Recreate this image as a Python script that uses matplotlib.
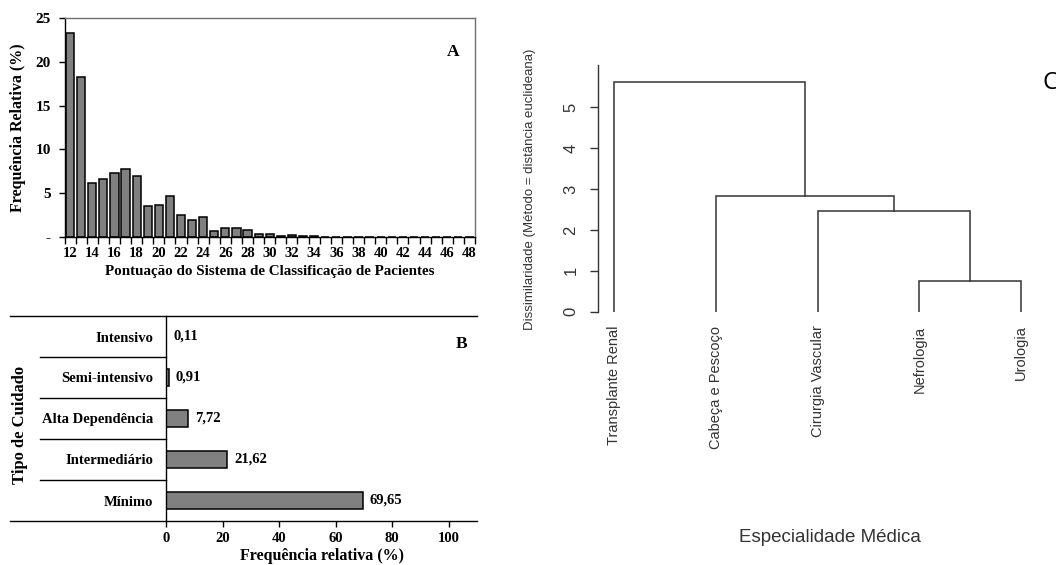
import numpy as np
import matplotlib
matplotlib.use("Agg")
import matplotlib.pyplot as plt

# dados - painel A
pontuacao = list(range(12, 49))
freq_a = [23.3, 18.3, 6.2, 6.6, 7.3, 7.8, 7.0, 3.5, 3.6, 4.7, 2.5, 1.9, 2.3,
          0.65, 1.0, 1.0, 0.75, 0.3, 0.3, 0.1, 0.2, 0.15, 0.1, 0.05, 0.05,
          0.05, 0.05, 0, 0, 0, 0, 0, 0, 0, 0, 0, 0]

# dados - painel B
cuidado = ["Mínimo", "Intermediário", "Alta Dependência", "Semi-intensivo", "Intensivo"]
freq_b = [69.65, 21.62, 7.72, 0.91, 0.11]
rotulos_b = ["69,65", "21,62", "7,72", "0,91", "0,11"]

# dados - painel C (dendrograma)
especialidades = ["Transplante Renal", "Cabeça e Pescoço", "Cirurgia Vascular",
                  "Nefrologia", "Urologia"]
# fusoes: (no esquerdo, no direito, altura); nos 0-4 = folhas, 5+ = grupos
fusoes = [(3, 4, 0.76), (2, 5, 2.46), (1, 6, 2.84), (0, 7, 5.62)]

W, H = 1056, 565
fig = plt.figure(figsize=(W / 100, H / 100), dpi=100)

def px_axes(x0, y0, x1, y1):
    return fig.add_axes([x0 / W, 1 - y1 / H, (x1 - x0) / W, (y1 - y0) / H])

serif = "Liberation Serif"
sans = "Liberation Sans"

# ---------------- Painel A
axA = px_axes(64.5, 18, 475, 237)
pos = np.arange(len(pontuacao))
axA.bar(pos, freq_a, width=0.74, color="#808080", edgecolor="black", linewidth=1.1)
axA.set_xlim(-0.5, len(pontuacao) - 0.5)
axA.set_ylim(0, 25)
axA.set_yticks([0, 5, 10, 15, 20, 25])
axA.set_yticklabels(["-", "5", "10", "15", "20", "25"])
axA.set_xticks(np.arange(-0.5, len(pontuacao)), minor=False)
axA.set_xticklabels([])
axA.set_xticks(pos[::2], minor=True)
axA.set_xticklabels([str(p) for p in pontuacao[::2]], minor=True)
axA.tick_params(axis="x", which="major", direction="out", length=5, width=1)
axA.tick_params(axis="x", which="minor", length=0, pad=7)
axA.tick_params(axis="y", direction="out", length=4, width=1, pad=6)
for lab in axA.get_xticklabels(minor=True):
    lab.set_fontfamily(serif)
    lab.set_fontweight("bold")
    lab.set_fontsize(10.5)
for lab in axA.get_yticklabels():
    lab.set_fontfamily(serif)
    lab.set_fontweight("bold")
    lab.set_fontsize(11)
for s in axA.spines.values():
    s.set_linewidth(1)
axA.spines["right"].set_color("#707070")
axA.spines["top"].set_color("#707070")
axA.set_xlabel("Pontuação do Sistema de Classificação de Pacientes",
               fontfamily=serif, fontweight="bold", fontsize=10.8, labelpad=4)
axA.set_ylabel("Frequência Relativa (%)", fontfamily=serif, fontweight="bold",
               fontsize=11.5, labelpad=7)
axA.text(0.946, 0.845, "A", transform=axA.transAxes, fontfamily=serif,
         fontweight="bold", fontsize=12.5, ha="center", va="center")

# ---------------- Painel B
axB = px_axes(166, 316, 477, 521)
ypos = np.arange(len(cuidado))
axB.barh(ypos, freq_b, height=0.42, color="#808080", edgecolor="black", linewidth=1.1)
axB.set_xlim(0, 110)
axB.set_ylim(-0.5, len(cuidado) - 0.5)
axB.set_xticks([0, 20, 40, 60, 80, 100])
axB.set_yticks(ypos)
axB.set_yticklabels(cuidado)
axB.tick_params(axis="x", direction="out", length=4, width=1, pad=4)
axB.tick_params(axis="y", length=0, pad=9)
for lab in axB.get_xticklabels() + axB.get_yticklabels():
    lab.set_fontfamily(serif)
    lab.set_fontweight("bold")
    lab.set_fontsize(10.5)
for i, (v, r) in enumerate(zip(freq_b, rotulos_b)):
    axB.annotate(r, (v, i), xytext=(5, 0), textcoords="offset points",
                 va="center", ha="left", fontfamily=serif, fontweight="bold",
                 fontsize=10.5)
axB.spines["right"].set_visible(False)
axB.spines["top"].set_visible(False)
axB.spines["bottom"].set_visible(False)
axB.spines["left"].set_linewidth(1)
left_full = (10 - 166) / (477 - 166)
left_sep = (40 - 166) / (477 - 166)
for yy in [-0.5, len(cuidado) - 0.5]:
    axB.plot([left_full, 1], [yy, yy], color="black", lw=1,
             transform=axB.get_yaxis_transform(), clip_on=False)
for yy in np.arange(0.5, len(cuidado) - 1):
    axB.plot([left_sep, 0], [yy, yy], color="black", lw=1,
             transform=axB.get_yaxis_transform(), clip_on=False)
axB.set_xlabel("Frequência relativa (%)", fontfamily=serif, fontweight="bold",
               fontsize=11.5, labelpad=2)
fig.text(20 / W, 1 - 425 / H, "Tipo de Cuidado", rotation=90, fontfamily=serif,
         fontweight="bold", fontsize=12, ha="center", va="center")
axB.text(0.949, 0.865, "B", transform=axB.transAxes, fontfamily=serif,
         fontweight="bold", fontsize=12.5, ha="center", va="center")

# ---------------- Painel C
cor = "#333333"
axC = px_axes(597.7, 65, 1040, 311.7)
x_no = {i: float(i + 1) for i in range(len(especialidades))}
h_no = {i: 0.0 for i in range(len(especialidades))}
for k, (a, b, h) in enumerate(fusoes):
    no = len(especialidades) + k
    xa, xb = x_no[a], x_no[b]
    axC.plot([xa, xa, xb, xb], [h_no[a], h, h, h_no[b]], color=cor, lw=1.1,
             solid_joinstyle="miter")
    x_no[no] = (xa + xb) / 2
    h_no[no] = h
axC.set_xlim(1 - 16.6 / 101.7, 5 + 19 / 101.7)
axC.set_ylim(0, 6.03)
axC.set_yticks([0, 1, 2, 3, 4, 5])
axC.set_xticks(range(1, len(especialidades) + 1))
axC.set_xticklabels(especialidades, rotation=90, va="top", ha="center")
axC.tick_params(axis="x", length=0, pad=10, labelsize=10.5, labelcolor=cor)
axC.tick_params(axis="y", length=6, width=1, color=cor, pad=8, labelsize=12,
                labelcolor=cor)
for lab in axC.get_yticklabels():
    lab.set_rotation(90)
    lab.set_va("center")
for lab in axC.get_xticklabels() + axC.get_yticklabels():
    lab.set_fontfamily(sans)
for s in ["top", "right", "bottom"]:
    axC.spines[s].set_visible(False)
axC.spines["left"].set_color(cor)
axC.spines["left"].set_linewidth(1)
fig.text(530 / W, 1 - 189 / H, "Dissimilaridade (Método = distância euclideana)",
         rotation=90, fontfamily=sans, fontsize=9.5, color=cor,
         ha="center", va="center")
fig.text(830 / W, 1 - 537 / H, "Especialidade Médica", fontfamily=sans,
         fontsize=13.5, color=cor, ha="center", va="center")
fig.text(1043 / W, 1 - 89 / H, "C", fontfamily="Open Sans", fontsize=17,
         color="black", ha="left", va="baseline")

fig.savefig("out.png", dpi=100)
